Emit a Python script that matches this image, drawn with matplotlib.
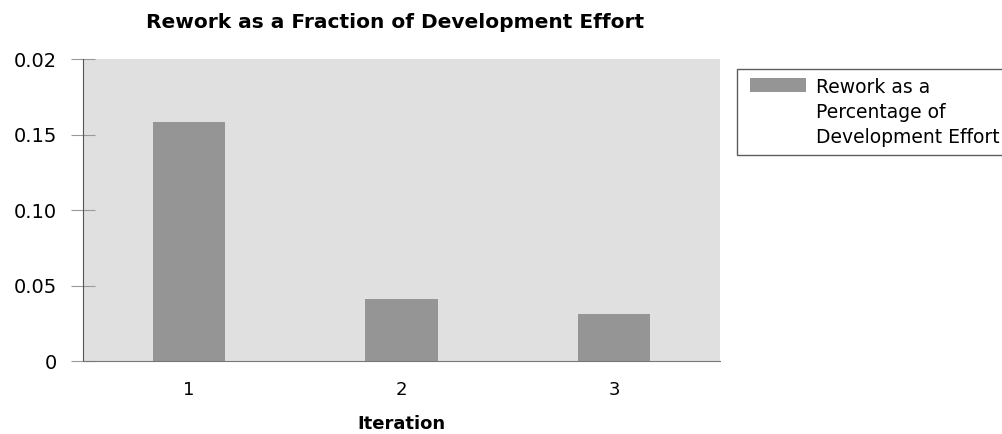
import matplotlib.pyplot as plt
from matplotlib.legend_handler import HandlerPatch
from matplotlib.patches import Rectangle

iterations = [1, 2, 3]
rework = [0.158, 0.041, 0.031]
ytick_vals = [0, 0.05, 0.10, 0.15, 0.20]
ytick_labels = ['0', '0.05', '0.10', '0.15', '0.02']
legend_label = 'Rework as a\nPercentage of\nDevelopment Effort'

plt.rcParams['font.family'] = ['DejaVu Sans']


def top_patch(legend, orig_handle, xdescent, ydescent, width, height, fontsize):
    # keep the swatch on the first text line instead of centred
    h = 0.75 * fontsize
    return Rectangle((-xdescent + 0.2 * fontsize, -ydescent + height - h + 0.55 * fontsize),
                     width, h)


fig = plt.figure(figsize=(10.02, 4.34), dpi=100)
ax = fig.add_axes([0.0828, 0.168, 0.636, 0.696])
ax.set_facecolor('#e0e0e0')

bars = ax.bar(iterations, rework, width=0.34, color='#959595')

ax.set_xlim(0.5, 3.5)
ax.set_ylim(0, 0.2)
ax.set_xticks(iterations)
ax.set_xticklabels([str(i) for i in iterations], fontsize=13)
ax.set_yticks(ytick_vals)
ax.set_yticklabels(ytick_labels, fontsize=14)
ax.tick_params(axis='x', length=0, pad=14)
ax.tick_params(axis='y', direction='inout', length=17, color='#999999', pad=10)

for s in ['top', 'right']:
    ax.spines[s].set_visible(False)
ax.spines['left'].set_color('#555555')
ax.spines['bottom'].set_color('#777777')

ax.set_title('Rework as a Fraction of Development Effort', fontsize=14.5,
             fontweight='bold', pad=22)
ax.title.set_position((0.49, 1.0))
ax.set_xlabel('Iteration', fontsize=13, fontweight='bold', labelpad=12)

handle = bars.patches[0]
leg = fig.legend([handle], [legend_label], loc='upper left',
                 bbox_to_anchor=(0.736, 0.84),
                 fontsize=13.5, frameon=True, fancybox=False,
                 handlelength=3.0, handleheight=4.0, handletextpad=0.72,
                 borderpad=0.45, borderaxespad=0, labelspacing=0.2,
                 handler_map={handle: HandlerPatch(patch_func=top_patch)})
leg.get_texts()[0].set_linespacing(1.4)
leg.get_frame().set_edgecolor('#333333')
leg.get_frame().set_linewidth(1.0)

fig.savefig('out.png', dpi=100)
